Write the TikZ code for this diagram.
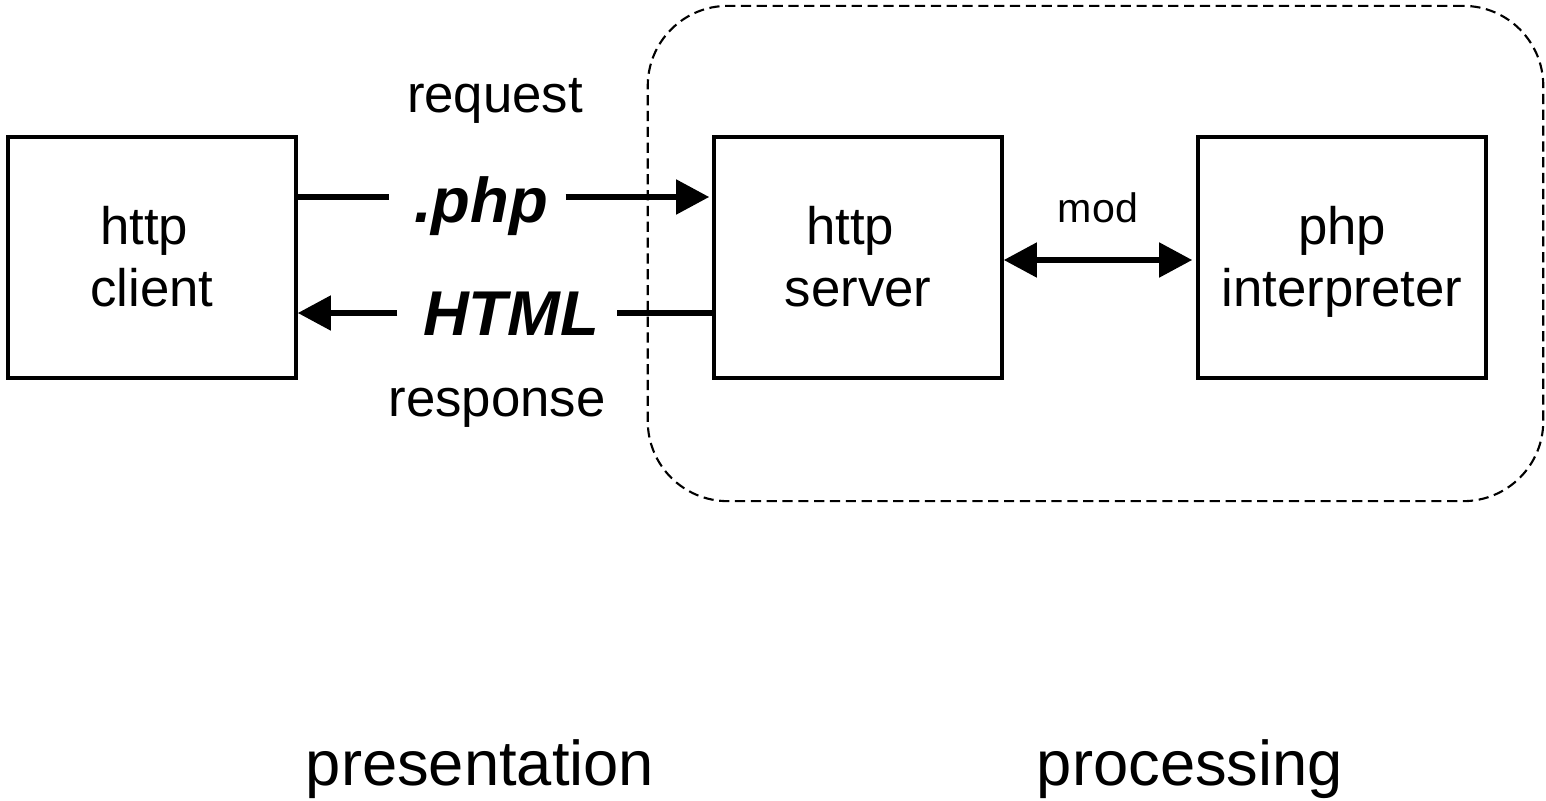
\documentclass[tikz,border=0pt]{standalone}
\usepackage{fontspec}
\setmainfont{Liberation Sans}
\usetikzlibrary{arrows.meta}
% fixed first-line height and last-line depth inside the boxes
\newcommand\hiline{\rule{0pt}{14.2pt}}
\newcommand\loline{\rule[-4pt]{0pt}{4pt}}
\begin{document}
\begin{tikzpicture}[x=0.01cm, y=-0.01cm,
  box/.style={draw, line width=1pt, minimum width=2.88cm, minimum height=2.41cm,
    align=center, inner sep=0pt, font=\fontsize{15}{17.4}\selectfont},
  tier/.style={draw, line width=0.6pt, dash pattern=on 2.9pt off 1.6pt,
    rounded corners=0.8cm, minimum width=8.95cm, minimum height=4.95cm, inner sep=0pt},
  msg/.style={anchor=base, inner sep=0pt,
    font=\fontsize{18}{20}\selectfont\bfseries\itshape},
  lbl/.style={anchor=base, inner sep=0pt, font=\fontsize{15}{18}\selectfont},
  small/.style={anchor=base, inner sep=0pt, font=\fontsize{11.7}{14}\selectfont},
  layer/.style={anchor=base, inner sep=0pt, font=\fontsize{18}{21}\selectfont},
  flow/.style={line width=1.45pt},
  tip/.style={-{Triangle[length=0.33cm, width=0.34cm]}},
  both/.style={{Triangle[length=0.33cm, width=0.34cm]}-{Triangle[length=0.33cm, width=0.34cm]}}]
\useasboundingbox (0,0) rectangle (1546,800);

% server side grouping
\node[tier] (group) at (1095.5,253.5) {};

% components
\node[box] (client) at (152,257.5) {\hiline http\kern4.5pt\\client\loline};
\node[box] (server) at (858,257.5) {\hiline http\kern4.5pt\\server\loline};
\node[box] (interp) at (1342,257.5) {\hiline php\\interpreter\loline};

% message labels
\node[msg] (php) at (481,222) {.php};
\node[msg] (html) at (511,335) {HTML};
\node[lbl] (req) at (495,112) {request};
\node[lbl] (resp) at (497,416) {response};
\node[small] (mod) at (1098,222) {mod};

% connector heights
\coordinate (rq) at (0,197);
\coordinate (rs) at (0,313);
\coordinate (md) at (0,260);

% request
\draw[flow] (client.east |- rq) -- ([xshift=-0.24cm]php.west |- rq);
\draw[flow, tip, shorten >=0.03cm] ([xshift=0.17cm]php.east |- rq) -- (server.west |- rq);
% response
\draw[flow] (server.west |- rs) -- ([xshift=0.17cm]html.east |- rs);
\draw[flow, tip] ([xshift=-0.25cm]html.west |- rs) -- (client.east |- rs);
% module link
\draw[flow, both, shorten >=0.04cm] (server.east |- md) -- (interp.west |- md);

% layers
\node[layer] (pres) at (480,785) {presentation};
\node[layer] (proc) at (1190,785) {processing};
\end{tikzpicture}
\end{document}
